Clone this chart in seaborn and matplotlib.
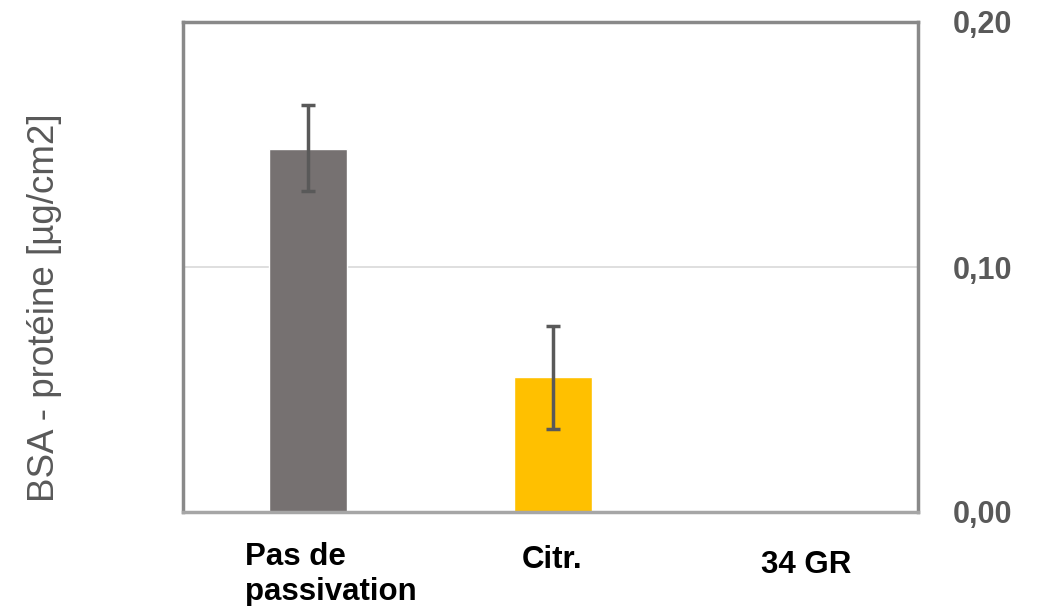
import numpy as np
import pandas as pd
import matplotlib
matplotlib.use("Agg")
import matplotlib.pyplot as plt
import matplotlib.transforms as mtransforms
import seaborn as sb

# data
categories = ["Pas de\npassivation", "Citr.", "34 GR"]
bsa = [0.148, 0.055, 0.0]
err_low = [0.131, 0.034, 0.0]
err_high = [0.166, 0.076, 0.0]
bar_colors = ["#767171", "#FFC000", "#9DC3E6"]

df = pd.DataFrame({"cat": categories, "bsa": bsa})

sb.set_style("white")
plt.rcParams["font.family"] = ["Liberation Sans", "DejaVu Sans"]

fig = plt.figure(figsize=(10.46, 6.06), dpi=100)
ax = fig.add_axes([183 / 1046, 94 / 606, 735 / 1046, 490 / 606])

sb.barplot(data=df, x="cat", y="bsa", hue="cat", palette=bar_colors,
           legend=False, width=0.32, saturation=1, ax=ax)

# error bars (asymmetric, from the read values)
x = np.arange(len(categories))
lo = np.array(bsa) - np.array(err_low)
hi = np.array(err_high) - np.array(bsa)
mask = np.array(bsa) > 0
ax.errorbar(x[mask], np.array(bsa)[mask], yerr=[lo[mask], hi[mask]], fmt="none",
            ecolor="#595959", elinewidth=2.5, capsize=5, capthick=2.5, zorder=5)

ax.set_xlim(-0.51, 2.49)
ax.set_ylim(0, 0.2)
ax.set_yticks([0, 0.1, 0.2])
ax.set_yticklabels(["0,00", "0,10", "0,20"])
ax.yaxis.tick_right()
ax.yaxis.set_label_position("left")
ax.grid(axis="y", color="#d9d9d9", linewidth=1.2)
ax.set_axisbelow(True)

ax.tick_params(axis="y", length=0, pad=25, labelsize=22, labelcolor="#595959")
ax.tick_params(axis="x", length=0, pad=21, labelsize=22.5, labelcolor="black")
for lab in ax.get_yticklabels():
    lab.set_fontweight("bold")
for lab in ax.get_xticklabels():
    lab.set_fontweight("bold")
    lab.set_multialignment("left")

# nudge category labels like the original
xlabs = ax.get_xticklabels()
shifts = [(23, -1), (-1, -4), (8, -9)]
for lab, (dx, dy) in zip(xlabs, shifts):
    lab.set_transform(lab.get_transform() +
                      mtransforms.ScaledTranslation(dx / 100, dy / 100, fig.dpi_scale_trans))

ax.set_xlabel("")
ax.set_ylabel("BSA - protéine [µg/cm2]", fontsize=26.5, color="#595959")
ax.yaxis.set_label_coords(-0.165, 0.416)

for s in ax.spines.values():
    s.set_visible(True)
    s.set_color("#898989")
    s.set_linewidth(2.5)
ax.spines["bottom"].set_color("#a6a6a6")

fig.savefig("out.png", dpi=100)
